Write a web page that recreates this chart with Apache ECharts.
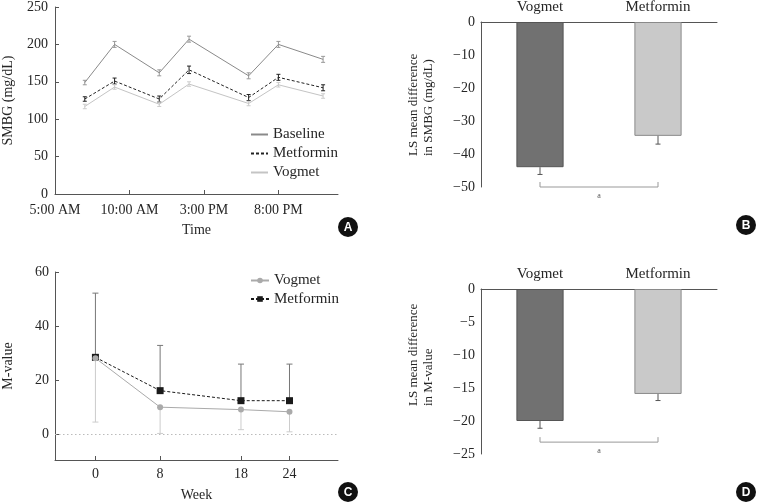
<!DOCTYPE html>
<html><head><meta charset="utf-8">
<script src="https://cdn.jsdelivr.net/npm/echarts@6/dist/echarts.min.js"></script>
<style>html,body{margin:0;padding:0;background:#fff}#c{width:762px;height:503px}</style>
</head><body><div id="c"></div>
<script>
// ---------- Panel A: SMBG by time of day ----------
const hours = [7, 9, 12, 14, 18, 20, 23];
const timeTickValues = [5, 10, 15, 20];
const timeTickLabels = ['5:00 AM', '10:00 AM', '3:00 PM', '8:00 PM'];
const baselineSMBG = [149, 200, 162, 207, 158, 200, 180];
const baselineSMBGErr = [3, 4, 4, 4, 4, 4, 4];
const metforminSMBG = [127, 151, 127, 166, 129, 156, 142];
const metforminSMBGErr = [3, 4, 4, 5, 4, 4, 4];
const vogmetSMBG = [117, 143, 120, 147, 121, 146, 131];
const vogmetSMBGErr = [3, 3, 3, 3, 3, 3, 3];

// ---------- Panel B: LS mean difference in SMBG ----------
const groups = ['Vogmet', 'Metformin'];
const smbgDiff = [-44, -34.5];
const smbgDiffErr = [2.2, 2.5];
const smbgBracketLevel = -50;

// ---------- Panel C: M-value by week ----------
const weeks = [0, 8, 18, 24];
const vogmetM = [28.2, 10.1, 9.2, 8.4];
const vogmetMLower = [4.6, 0.4, 1.8, 1.0];
const metforminM = [28.5, 16.2, 12.5, 12.5];
const metforminMUpper = [52.2, 32.9, 26.0, 26.0];
const mTickValues = [0, 20, 40, 60];

// ---------- Panel D: LS mean difference in M-value ----------
const mDiff = [-20, -15.9];
const mDiffErr = [1.1, 1.0];
const mBracketLevel = -23.2;

const sigMark = 'a';
const panelLetters = ['A', 'B', 'C', 'D'];

const FONT = 'Liberation Serif';
const TXT = '#262626';
const AX = '#555';

function minus(v) { return v < 0 ? '\u2212' + Math.abs(v) : String(v); }

function errSeries(xi, yi, data, color, capHalf, bothCaps) {
  return {
    type: 'custom', xAxisIndex: xi, yAxisIndex: yi, silent: true, z: 3,
    renderItem: function (params, api) {
      const x = api.value(0);
      const a = api.coord([x, api.value(1)]);
      const b = api.coord([x, api.value(2)]);
      const st = { stroke: color, lineWidth: 1 };
      const ch = [
        { type: 'line', shape: { x1: a[0], y1: a[1], x2: b[0], y2: b[1] }, style: st },
        { type: 'line', shape: { x1: b[0] - capHalf, y1: b[1], x2: b[0] + capHalf, y2: b[1] }, style: st }
      ];
      if (bothCaps) ch.push({ type: 'line', shape: { x1: a[0] - capHalf, y1: a[1], x2: a[0] + capHalf, y2: a[1] }, style: st });
      return { type: 'group', children: ch };
    },
    data: data
  };
}

function bracketSeries(xi, yi, level) {
  return {
    type: 'custom', xAxisIndex: xi, yAxisIndex: yi, silent: true, clip: false,
    renderItem: function (params, api) {
      const y = api.value(1);
      const a = api.coord([api.value(0), y]);
      const b = api.coord([api.value(2), y]);
      return { type: 'group', children: [
        { type: 'polyline', shape: { points: [[a[0], a[1] - 5], [a[0], a[1]], [b[0], b[1]], [b[0], b[1] - 5]] },
          style: { stroke: '#999', lineWidth: 1, fill: null } },
        { type: 'text', style: { text: sigMark, x: (a[0] + b[0]) / 2, y: a[1] + 9, align: 'center', verticalAlign: 'middle',
          fill: '#555', font: '8px ' + FONT } }
      ] };
    },
    data: [[0, level, 1]]
  };
}

const axisLabelStyle = { color: TXT, fontFamily: FONT, fontSize: 14 };
const nameStyle = { color: TXT, fontFamily: FONT, fontSize: 14 };
const axLine = { show: true, onZero: false, lineStyle: { color: AX } };
const legendText = { color: TXT, fontFamily: FONT, fontSize: 15 };

const sym = (arr, err, i) => [hours[i], arr[i] - err[i], arr[i] + err[i]];

const option = {
  animation: false,
  backgroundColor: '#fff',
  textStyle: { fontFamily: FONT },
  grid: [
    { left: 55, top: 6, width: 283, height: 188 },
    { left: 481, top: 22, width: 236, height: 165 },
    { left: 55, top: 272, width: 283, height: 190 },
    { left: 481, top: 289, width: 236, height: 165 }
  ],
  xAxis: [
    { gridIndex: 0, type: 'value', min: 5, max: 24, name: 'Time', nameLocation: 'middle', nameGap: 29, nameTextStyle: nameStyle,
      axisLine: axLine, splitLine: { show: false },
      axisTick: { inside: true, length: 4, lineStyle: { color: AX }, customValues: timeTickValues.slice(1) },
      axisLabel: Object.assign({ margin: 9, customValues: timeTickValues,
        formatter: v => timeTickLabels[timeTickValues.indexOf(v)] || '' }, axisLabelStyle) },
    { gridIndex: 1, type: 'category', data: groups, position: 'top', axisLine: axLine,
      axisTick: { show: false }, axisLabel: Object.assign({}, axisLabelStyle, { fontSize: 15, margin: 7 }) },
    { gridIndex: 2, type: 'value', min: -5, max: 30, name: 'Week', nameLocation: 'middle', nameGap: 28, nameTextStyle: nameStyle,
      axisLine: axLine, splitLine: { show: false },
      axisTick: { inside: true, length: 4, lineStyle: { color: AX }, customValues: weeks },
      axisLabel: Object.assign({ margin: 7, customValues: weeks }, axisLabelStyle) },
    { gridIndex: 3, type: 'category', data: groups, position: 'top', axisLine: axLine,
      axisTick: { show: false }, axisLabel: Object.assign({}, axisLabelStyle, { fontSize: 15, margin: 7 }) }
  ],
  yAxis: [
    { gridIndex: 0, type: 'value', min: 0, max: 250, interval: 50, name: 'SMBG (mg/dL)', nameLocation: 'middle', nameGap: 40,
      nameRotate: 90, nameTextStyle: nameStyle, axisLine: axLine, splitLine: { show: false },
      axisTick: { inside: true, length: 4, lineStyle: { color: AX } }, axisLabel: Object.assign({ margin: 7 }, axisLabelStyle) },
    { gridIndex: 1, type: 'value', min: -50, max: 0, interval: 10, axisLine: axLine,
      splitLine: { show: false }, axisTick: { inside: true, length: 4, lineStyle: { color: AX } },
      axisLabel: Object.assign({ margin: 6, formatter: minus }, axisLabelStyle) },
    { gridIndex: 2, type: 'value', min: -9.4, max: 60, name: 'M-value', nameLocation: 'middle', nameGap: 40, nameRotate: 90,
      nameTextStyle: nameStyle, axisLine: axLine, splitLine: { show: false },
      axisTick: { inside: true, length: 4, lineStyle: { color: AX }, customValues: mTickValues },
      axisLabel: Object.assign({ margin: 6, customValues: mTickValues }, axisLabelStyle) },
    { gridIndex: 3, type: 'value', min: -25, max: 0, interval: 5, axisLine: axLine,
      splitLine: { show: false }, axisTick: { inside: true, length: 4, lineStyle: { color: AX } },
      axisLabel: Object.assign({ margin: 6, formatter: minus }, axisLabelStyle) }
  ],
  legend: [
    { left: 250, top: 127, orient: 'vertical', itemWidth: 17, itemHeight: 14, itemGap: 4, padding: 0,
      itemStyle: { opacity: 0 },
      data: ['A:Baseline', 'A:Metformin', 'A:Vogmet'], formatter: n => n.slice(2),
      textStyle: legendText },
    { left: 250, top: 273, orient: 'vertical', itemWidth: 18, itemHeight: 7, itemGap: 3.5, padding: 0,
      data: ['C:Vogmet', 'C:Metformin'], formatter: n => n.slice(2),
      textStyle: legendText }
  ],
  series: [
    // Panel A
    errSeries(0, 0, hours.map((h, i) => sym(baselineSMBG, baselineSMBGErr, i)), '#999', 2, true),
    errSeries(0, 0, hours.map((h, i) => sym(metforminSMBG, metforminSMBGErr, i)), '#222', 2, true),
    errSeries(0, 0, hours.map((h, i) => sym(vogmetSMBG, vogmetSMBGErr, i)), '#ccc', 2, true),
    { name: 'A:Baseline', type: 'line', xAxisIndex: 0, yAxisIndex: 0, symbol: 'none', color: '#8a8a8a',
      lineStyle: { width: 1, color: '#8a8a8a' }, data: hours.map((h, i) => [h, baselineSMBG[i]]) },
    { name: 'A:Metformin', type: 'line', xAxisIndex: 0, yAxisIndex: 0, symbol: 'none', color: '#222',
      lineStyle: { width: 1, color: '#222', type: [3, 2] }, data: hours.map((h, i) => [h, metforminSMBG[i]]) },
    { name: 'A:Vogmet', type: 'line', xAxisIndex: 0, yAxisIndex: 0, symbol: 'none', color: '#c4c4c4',
      lineStyle: { width: 1, color: '#c4c4c4' }, data: hours.map((h, i) => [h, vogmetSMBG[i]]) },
    // Panel B
    { type: 'bar', xAxisIndex: 1, yAxisIndex: 1, barWidth: '40%', silent: true,
      data: smbgDiff.map((v, i) => ({ value: v, itemStyle: i === 0
        ? { color: '#717171', borderColor: '#555', borderWidth: 1 }
        : { color: '#c9c9c9', borderColor: '#8a8a8a', borderWidth: 1 } })) },
    errSeries(1, 1, smbgDiff.map((v, i) => [i, v, v - smbgDiffErr[i]]), '#555', 2.5, false),
    bracketSeries(1, 1, smbgBracketLevel),
    // Panel C
    errSeries(2, 2, weeks.map((w, i) => [w, vogmetM[i], vogmetMLower[i]]), '#ccc', 3, false),
    errSeries(2, 2, weeks.map((w, i) => [w, metforminM[i], metforminMUpper[i]]), '#777', 3, false),
    { name: 'C:Metformin', type: 'line', xAxisIndex: 2, yAxisIndex: 2, symbol: 'rect', symbolSize: 7, color: '#1a1a1a',
      lineStyle: { width: 1, color: '#1a1a1a', type: [3, 2] }, z: 4, data: weeks.map((w, i) => [w, metforminM[i]]) },
    { name: 'C:Vogmet', type: 'line', xAxisIndex: 2, yAxisIndex: 2, symbol: 'circle', symbolSize: 6, color: '#aaa',
      lineStyle: { width: 1, color: '#aaa' }, z: 5, data: weeks.map((w, i) => [w, vogmetM[i]]),
      markLine: { silent: true, symbol: 'none', label: { show: false }, lineStyle: { type: [1.5, 2.5], color: '#bbb', width: 1 },
        data: [{ yAxis: 0 }] } },
    // Panel D
    { type: 'bar', xAxisIndex: 3, yAxisIndex: 3, barWidth: '40%', silent: true,
      data: mDiff.map((v, i) => ({ value: v, itemStyle: i === 0
        ? { color: '#717171', borderColor: '#555', borderWidth: 1 }
        : { color: '#c9c9c9', borderColor: '#8a8a8a', borderWidth: 1 } })) },
    errSeries(3, 3, mDiff.map((v, i) => [i, v, v - mDiffErr[i]]), '#555', 2.5, false),
    bracketSeries(3, 3, mBracketLevel)
  ],
  graphic: { elements: [
    { type: 'text', rotation: Math.PI / 2, x: 421, y: 156,
      style: { text: 'LS mean difference\nin SMBG (mg/dL)', align: 'left', verticalAlign: 'middle', lineHeight: 15,
        fill: TXT, font: '13px ' + FONT } },
    { type: 'text', rotation: Math.PI / 2, x: 421, y: 406,
      style: { text: 'LS mean difference\nin M-value', align: 'left', verticalAlign: 'middle', lineHeight: 15,
        fill: TXT, font: '13px ' + FONT } }
  ].concat([[348, 227], [746, 225], [348, 492], [746, 492]].map((p, i) => ({
    type: 'group', x: p[0], y: p[1], children: [
      { type: 'circle', shape: { cx: 0, cy: 0, r: 10 }, style: { fill: '#111' } },
      { type: 'text', style: { text: panelLetters[i], x: 0, y: 1, align: 'center', verticalAlign: 'middle',
        fill: '#fff', font: 'bold 12px Liberation Sans' } }
    ] }))) }
};

const chart = echarts.init(document.getElementById('c'), null, { renderer: 'canvas' });
chart.setOption(option);
</script>
</body></html>
